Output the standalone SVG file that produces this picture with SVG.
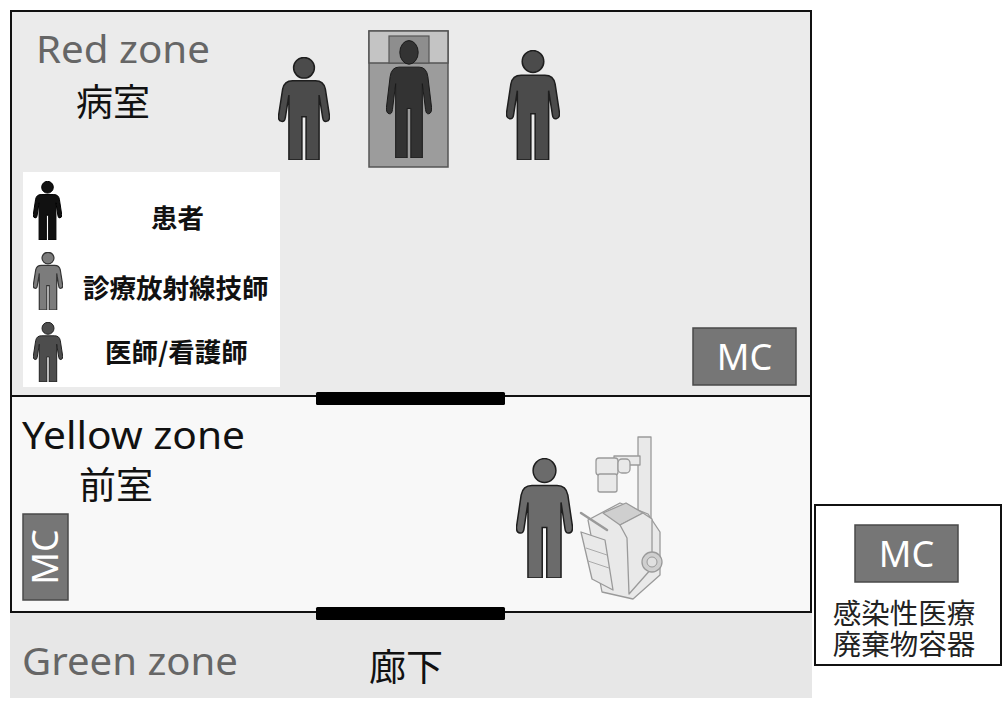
<svg xmlns="http://www.w3.org/2000/svg" xmlns:xlink="http://www.w3.org/1999/xlink" width="1003" height="702" viewBox="0 0 1003 702">
  <style>
    .latin { font-family: "Noto Sans", "Open Sans", "Liberation Sans", sans-serif; }
    .cjk { font-family: "Noto Sans CJK JP", "Noto Sans CJK SC", sans-serif; }
    .zone-title { font-size: 39px; }
    .room { font-size: 37px; fill: #111; }
    .legend-label { font-size: 26.5px; font-weight: bold; fill: #111; }
    .mc-box { fill: #767676; stroke: #4a4a4a; stroke-width: 1.5; }
    .mc-text { font-size: 36px; fill: #fff; }
    .key-label { font-size: 28.5px; fill: #222; }
    .wall { fill: none; stroke: #111; stroke-width: 2; }
    .door { fill: #000; }
    .xray { fill: #e9e9e9; stroke: #9a9a9a; stroke-width: 1.3; stroke-linejoin: round; }
    .xray-dark { fill: #cfcfcf; stroke: #9a9a9a; stroke-width: 1.3; stroke-linejoin: round; }
  </style>
  <defs>
    <!-- generic standing person pictogram in a 50x100 box -->
    <symbol id="person" viewBox="0 0 50 100" preserveAspectRatio="none">
      <circle cx="25" cy="10.5" r="10" vector-effect="non-scaling-stroke"/>
      <path vector-effect="non-scaling-stroke" d="M 14 23 H 36 Q 44 23 45.5 31 L 49.5 57 Q 50 62 46.5 62.5 Q 43.5 63 43 59 L 39.5 37 V 100 H 27 V 58 H 23 V 100 H 10.5 V 37 L 7 59 Q 6.5 63 3.5 62.5 Q 0 62 0.5 57 L 4.5 31 Q 6 23 14 23 Z"/>
    </symbol>
  </defs>

  <!-- zone backgrounds -->
  <g id="green-zone">
    <rect x="10" y="612" width="802" height="86" fill="#e7e7e7"/>
    <text class="latin zone-title" x="22" y="675" fill="#666" textLength="216" lengthAdjust="spacingAndGlyphs">Green zone</text>
    <text class="cjk room" x="369" y="681">廊下</text>
  </g>

  <g id="red-zone">
    <rect x="11" y="11" width="800" height="385" fill="#ebebeb"/>
    <text class="latin zone-title" x="36" y="63" fill="#666" textLength="174" lengthAdjust="spacingAndGlyphs">Red zone</text>
    <text class="cjk room" x="76" y="116">病室</text>
  </g>

  <g id="yellow-zone">
    <rect x="11" y="396" width="800" height="216" fill="#f8f8f8"/>
    <text class="latin zone-title" x="22" y="449" fill="#111" textLength="223" lengthAdjust="spacingAndGlyphs">Yellow zone</text>
    <text class="cjk room" x="79" y="499">前室</text>
  </g>

  <!-- walls and doors -->
  <g id="walls">
    <rect class="wall" x="11" y="11" width="800" height="601"/>
    <line class="wall" x1="11" y1="396" x2="811" y2="396"/>
    <rect class="door" x="316" y="392" width="189" height="13" rx="1.5"/>
    <rect class="door" x="316" y="607" width="189" height="13" rx="1.5"/>
  </g>

  <!-- legend -->
  <g id="legend">
    <rect x="23" y="172" width="257" height="215" fill="#fff"/>
    <use xlink:href="#person" x="33" y="181" width="29" height="59" fill="#111" stroke="#000" stroke-width="1"/>
    <use xlink:href="#person" x="33" y="252" width="30" height="58" fill="#7c7c7c" stroke="#333" stroke-width="1.2"/>
    <use xlink:href="#person" x="33" y="322" width="30" height="60" fill="#4d4d4d" stroke="#222" stroke-width="1"/>
    <text class="cjk legend-label" x="151" y="228">患者</text>
    <text class="cjk legend-label" x="83" y="298">診療放射線技師</text>
    <text class="cjk legend-label" x="105" y="362">医師/看護師</text>
  </g>

  <!-- red zone occupants -->
  <g id="staff-left">
    <use xlink:href="#person" x="278" y="57" width="52" height="103" fill="#4b4b4b" stroke="#1e1e1e" stroke-width="1.5"/>
  </g>
  <g id="patient-bed">
    <rect x="369" y="31" width="79" height="136" fill="#9c9c9c" stroke="#555" stroke-width="1.5"/>
    <rect x="369" y="31" width="79" height="32" fill="#c4c4c4" stroke="#555" stroke-width="1.5"/>
    <rect x="389" y="36" width="40" height="27" fill="#8e8e8e" stroke="#555" stroke-width="1.2"/>
    <use xlink:href="#person" x="386" y="40" width="46" height="118" fill="#333" stroke="#1a1a1a" stroke-width="1"/>
  </g>
  <g id="staff-right">
    <use xlink:href="#person" x="506" y="50" width="54" height="110" fill="#4b4b4b" stroke="#1e1e1e" stroke-width="1.5"/>
  </g>

  <!-- medical waste containers -->
  <g id="mc-red">
    <rect class="mc-box" x="693" y="328" width="103" height="57"/>
    <text class="latin mc-text" x="744.5" y="370" text-anchor="middle">MC</text>
  </g>
  <g id="mc-yellow">
    <rect class="mc-box" x="23" y="514" width="45" height="86"/>
    <text class="latin mc-text" x="0" y="0" text-anchor="middle" transform="translate(58 557) rotate(-90)">MC</text>
  </g>

  <!-- radiographer with portable x-ray unit -->
  <g id="radiographer">
    <use xlink:href="#person" x="516" y="458" width="57" height="120" fill="#6b6b6b" stroke="#1e1e1e" stroke-width="1.5"/>
  </g>
  <g id="portable-xray">
    <!-- column and tube arm -->
    <rect class="xray" x="638" y="437" width="13" height="108"/>
    <rect class="xray" x="614" y="456" width="26" height="9"/>
    <rect class="xray" x="596" y="458" width="22" height="17" rx="3"/>
    <rect class="xray" x="618" y="459" width="12" height="14" rx="4"/>
    <rect class="xray" x="598" y="474" width="19" height="18" rx="2"/>
    <!-- cart body -->
    <polygon class="xray" points="588,520 620,503 648,514 660,532 660,575 633,599 602,592"/>
    <polygon class="xray-dark" points="603,513 626,503 643,513 620,525"/>
    <polygon class="xray" points="620,525 643,513 652,519 652,568 629,594 627,538"/>
    <!-- front drawer and handle -->
    <polygon class="xray" points="581,532 605,540 613,590 592,579"/>
    <line x1="581" y1="513" x2="607" y2="530" stroke="#9a9a9a" stroke-width="2.5" stroke-linecap="round"/>
    <line x1="586" y1="548" x2="607" y2="555" stroke="#aaa" stroke-width="1"/>
    <line x1="588" y1="561" x2="609" y2="568" stroke="#aaa" stroke-width="1"/>
    <!-- rear wheel -->
    <circle class="xray-dark" cx="652" cy="562" r="10"/>
    <circle cx="652" cy="562" r="5" fill="#e0e0e0" stroke="#999" stroke-width="1"/>
  </g>

  <!-- waste container key -->
  <g id="mc-key">
    <rect x="815" y="505" width="186" height="160" fill="#fff" stroke="#111" stroke-width="2"/>
    <rect class="mc-box" x="855" y="525" width="103" height="57"/>
    <text class="latin mc-text" x="906.5" y="567" text-anchor="middle">MC</text>
    <text class="cjk key-label" text-anchor="middle"><tspan x="904" y="624">感染性医療</tspan><tspan x="904" y="655">廃棄物容器</tspan></text>
  </g>
</svg>
